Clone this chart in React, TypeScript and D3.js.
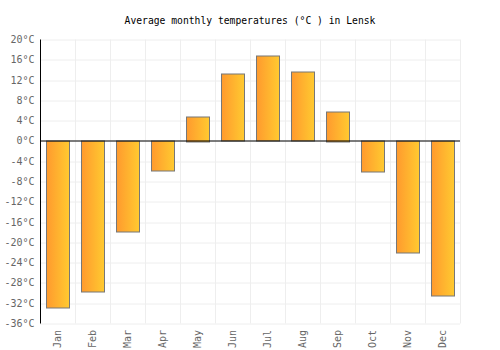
import * as d3 from 'd3'

const months = ['Jan', 'Feb', 'Mar', 'Apr', 'May', 'Jun', 'Jul', 'Aug', 'Sep', 'Oct', 'Nov', 'Dec']
const temps = [-32.9, -29.8, -17.9, -5.9, 4.9, 13.3, 16.8, 13.7, 5.9, -6.2, -22.1, -30.6]
const yTicks = [20, 16, 12, 8, 4, 0, -4, -8, -12, -16, -20, -24, -28, -32, -36]

const W = 500, H = 350
const margin = { top: 39.5, right: 40, bottom: 26.5, left: 40 }
const FONT = '"DejaVu Sans Mono", monospace'

export default function App() {
  const iw = W - margin.left - margin.right
  const ih = H - margin.top - margin.bottom

  const x = d3.scaleBand<string>().domain(months).range([0, iw]).paddingInner(0.34).paddingOuter(0.17)
  const y = d3.scaleLinear().domain([-36, 20]).range([ih, 0])
  const step = iw / months.length

  return (
    <svg width={W} height={H} style={{ position: 'absolute', left: 0, top: 0, background: '#fff' }}>
      <defs>
        <linearGradient id="barGrad" x1="0" x2="1" y1="0" y2="0">
          <stop offset="0%" stopColor="#ff9a2e" />
          <stop offset="100%" stopColor="#ffca30" />
        </linearGradient>
      </defs>
      <text x={W / 2} y={23.5} textAnchor="middle" fontFamily={FONT} fontSize={9.7} fill="#000">
        Average monthly temperatures (°C ) in Lensk
      </text>
      <g transform={`translate(${margin.left},${margin.top})`}>
        {yTicks.map(t => (
          <line key={'h' + t} x1={0} x2={iw} y1={Math.round(y(t)) + 0.5} y2={Math.round(y(t)) + 0.5} stroke="#eeeeee" />
        ))}
        {months.map((m, i) => (
          <line key={'v' + m} x1={Math.round(step * (i + 1)) + 0.5} x2={Math.round(step * (i + 1)) + 0.5} y1={0} y2={ih} stroke="#eeeeee" />
        ))}
        {months.map((m, i) => {
          const v = temps[i]
          const y0 = y(Math.max(0, v)), y1 = y(Math.min(0, v))
          return (
            <rect key={m} x={Math.round(x(m)!) + 0.5} y={Math.round(y0) + 0.5} width={Math.round(x.bandwidth())}
              height={Math.round(y1 - y0)} fill="url(#barGrad)" stroke="#777" strokeWidth={1} />
          )
        })}
        <line x1={0} x2={iw} y1={Math.round(y(0)) + 0.5} y2={Math.round(y(0)) + 0.5} stroke="#000" />
        <line x1={0.5} x2={0.5} y1={0} y2={ih} stroke="#000" />
        {yTicks.map(t => (
          <text key={'t' + t} x={-5.5} y={y(t) + 3.5} textAnchor="end" fontFamily={FONT} fontSize={10} fill="#666">
            {t}°C
          </text>
        ))}
        {months.map(m => (
          <text key={'l' + m} transform={`translate(${x(m)! + x.bandwidth() / 2 + 3.5},${ih + 6.5}) rotate(-90)`}
            textAnchor="end" fontFamily={FONT} fontSize={10} fill="#666">
            {m}
          </text>
        ))}
      </g>
    </svg>
  )
}
